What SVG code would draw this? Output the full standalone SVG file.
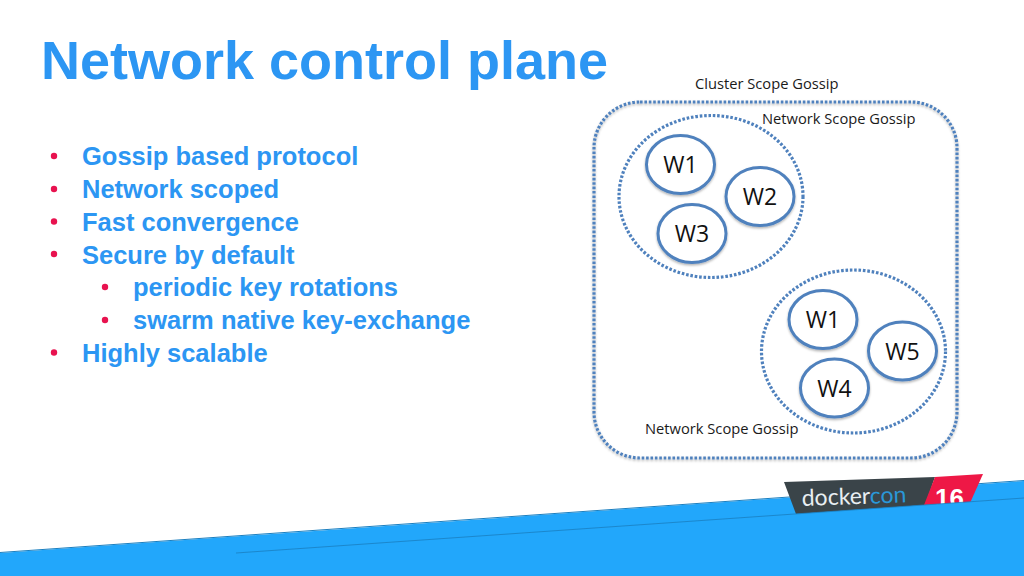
<svg xmlns="http://www.w3.org/2000/svg" width="1024" height="576" viewBox="0 0 1024 576">
<defs>
<filter id="sh" x="-20%" y="-20%" width="140%" height="140%"><feDropShadow dx="0" dy="1.500" stdDeviation="1.200" flood-color="#000" flood-opacity="0.300"/></filter>
</defs>
<style>
.t{font-family:"Liberation Sans",Arial,sans-serif;font-weight:bold;fill:#2c96f3}
.h{font-size:54px}
.b{font-size:25.500px}
.c{font-family:"Open Sans","Noto Sans",sans-serif;fill:#1a1a1a;font-size:14.700px}
.w{font-family:"Open Sans","Noto Sans",sans-serif;fill:#111;font-size:23px;text-anchor:middle}
.dot{fill:none;stroke:#4f81bd;stroke-width:3.200;stroke-dasharray:2.600 1.800}
.n{fill:#fff;stroke:#4f81bd;stroke-width:3}
.p{fill:#e8124f}
</style>
<rect width="1024" height="576" fill="#fff"/>
<text class="t h" x="41" y="79">Network control plane</text>
<g id="bullets">
<text class="t b" x="82" y="165">Gossip based protocol</text>
<text class="t b" x="82" y="198">Network scoped</text>
<text class="t b" x="82" y="231">Fast convergence</text>
<text class="t b" x="82" y="263.500">Secure by default</text>
<text class="t b" x="133" y="296">periodic key rotations</text>
<text class="t b" x="133" y="329">swarm native key-exchange</text>
<text class="t b" x="82" y="362">Highly scalable</text>
<circle class="p" cx="54" cy="156" r="3.200"/>
<circle class="p" cx="54" cy="189" r="3.200"/>
<circle class="p" cx="54" cy="221.500" r="3.200"/>
<circle class="p" cx="54" cy="254" r="3.200"/>
<circle class="p" cx="105" cy="287" r="3.200"/>
<circle class="p" cx="105" cy="320" r="3.200"/>
<circle class="p" cx="54" cy="352.500" r="3.200"/>
</g>
<g id="cluster"><rect class="dot" x="594" y="102" width="363" height="356" rx="46" ry="46" filter="url(#sh)"/></g>
<g id="scope1"><ellipse class="dot" cx="711" cy="196.500" rx="92" ry="81"/></g>
<g id="scope2"><ellipse class="dot" cx="853.500" cy="351.500" rx="92" ry="81.500"/></g>
<text class="c" x="695" y="89">Cluster Scope Gossip</text>
<text class="c" x="762" y="123.500">Network Scope Gossip</text>
<text class="c" x="645" y="434">Network Scope Gossip</text>
<g id="w1a"><ellipse class="n" cx="680.500" cy="164.500" rx="34" ry="29" filter="url(#sh)"/><text class="w" x="680.500" y="173">W1</text></g>
<g id="w2"><ellipse class="n" cx="760" cy="196.500" rx="34" ry="29" filter="url(#sh)"/><text class="w" x="760" y="205">W2</text></g>
<g id="w3"><ellipse class="n" cx="692" cy="233.500" rx="34" ry="29" filter="url(#sh)"/><text class="w" x="692" y="242">W3</text></g>
<g id="w1b"><ellipse class="n" cx="823" cy="319.500" rx="34" ry="29" filter="url(#sh)"/><text class="w" x="823" y="328">W1</text></g>
<g id="w5"><ellipse class="n" cx="902.500" cy="351" rx="34" ry="29" filter="url(#sh)"/><text class="w" x="902.500" y="360">W5</text></g>
<g id="w4"><ellipse class="n" cx="834.500" cy="388" rx="34" ry="29" filter="url(#sh)"/><text class="w" x="834.500" y="397">W4</text></g>
<g id="footer">
<polygon points="0,553 1024,481 1024,576 0,576" fill="#22a7fb"/>
<line x1="0" y1="552.500" x2="1024" y2="480.500" stroke="#1a7fc0" stroke-width="1"/>
<polygon points="784,482 935,477 925,505 796,514" fill="#3a4449"/>
<polygon points="935,477 983,474 970,503 924,505" fill="#ee1846"/>
<text x="802" y="506" font-family="Lato,'Open Sans',sans-serif" font-size="23" fill="#e8eef2" transform="rotate(-2 802 506)">docker<tspan fill="#2a97d8">con</tspan></text>
<text x="935" y="507" font-family="'Liberation Sans',sans-serif" font-weight="bold" font-size="26" fill="#fff">16</text>
<polygon points="236,553 1024,498 1024,576 236,576" fill="#22a7fb"/>
<line x1="236" y1="553" x2="1024" y2="498" stroke="#1a7fc0" stroke-width="0.800"/>
</g>
</svg>
